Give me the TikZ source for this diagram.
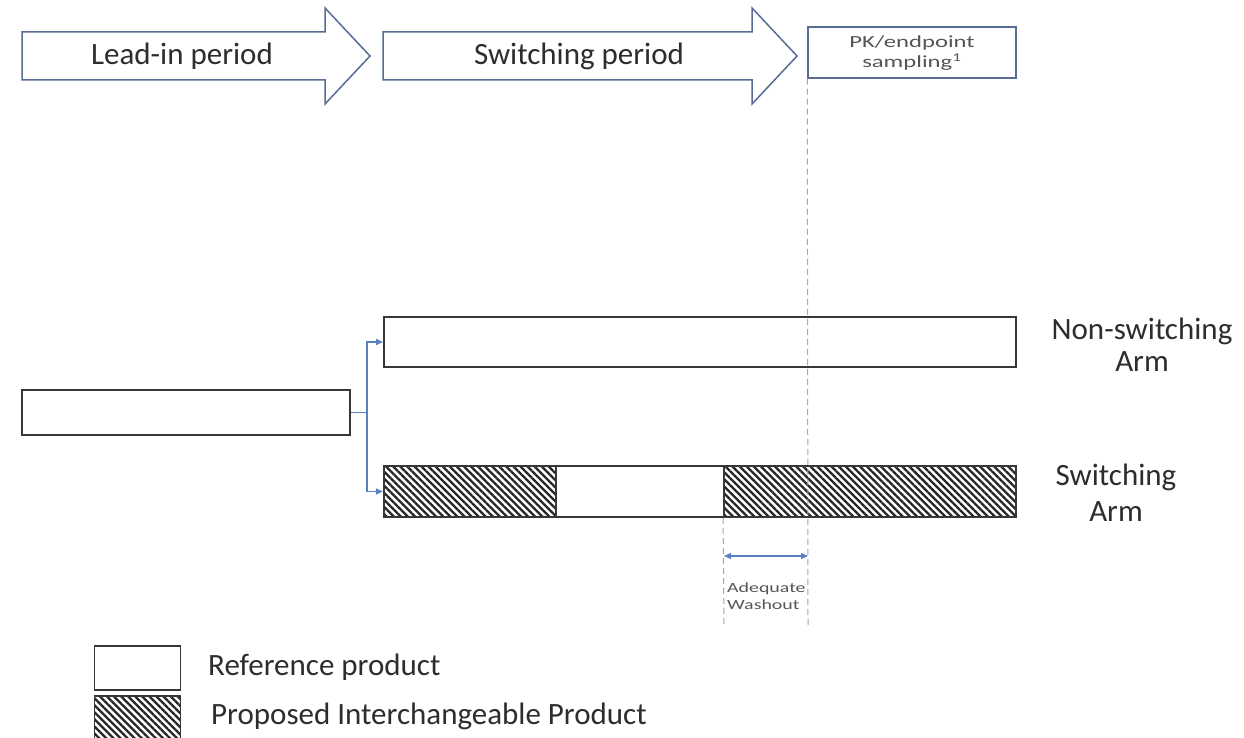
\documentclass[tikz,border=0pt]{standalone}
\usepackage{fontspec}
\setmainfont{Carlito}
\usetikzlibrary{patterns.meta,arrows.meta}
\definecolor{outl}{RGB}{88,108,148}
\definecolor{boxl}{RGB}{55,55,55}
\definecolor{connc}{RGB}{90,128,195}
\definecolor{dashc}{RGB}{150,168,200}
\definecolor{txt}{RGB}{45,45,45}
\definecolor{smtxt}{RGB}{85,85,85}
\tikzset{
  bigarrow/.style={draw=outl, line width=1.5pt, fill=white, line join=miter},
  bar/.style={draw=boxl, line width=1.8pt, fill=white, inner sep=0pt},
  hatch/.style={draw=boxl, line width=1.8pt, inner sep=0pt, pattern={Lines[angle=-45,distance=5pt,line width=2.3pt]}, pattern color=black!85},
  pkbox/.style={draw=outl, line width=1.5pt, fill=white, inner sep=0pt},
  bigtxt/.style={text=txt, font=\fontsize{31}{37}\selectfont, inner sep=0pt, align=center},
  conn/.style={draw=connc, line width=1.3pt},
  tipped/.style={-{Triangle[length=7pt,width=6pt]}},
  both/.style={{Triangle[length=7pt,width=6pt]}-{Triangle[length=7pt,width=6pt]}},
  dashline/.style={draw=dashc, line width=1pt, dash pattern=on 6pt off 4pt},
}
\begin{document}
\begin{tikzpicture}[x=1pt,y=-1pt]
\useasboundingbox (0,0) rectangle (1244,738);
\fill[white] (0,0) rectangle (1244,738);
% period arrows
\draw[bigarrow] (22,32) -- (325,32) -- (325,8) -- (370,56) -- (325,104) -- (325,80) -- (22,80) -- cycle;
\node[bigtxt] (leadtxt) at (182,56) {Lead-in period};
\draw[bigarrow] (383,32) -- (752,32) -- (752,8) -- (797,56) -- (752,104) -- (752,80) -- (383,80) -- cycle;
\node[bigtxt] (swtxt) at (579,56) {Switching period};
% PK box
\node[pkbox, minimum width=208pt, minimum height=51pt] (pk) at (912,52.5) {};
\node[text=smtxt, font=\fontsize{17}{20}\selectfont, align=center, inner sep=0pt] (pktxt) at (912,53) {\scalebox{1.45}[1]{PK/endpoint}\\\scalebox{1.45}[1]{sampling\textsuperscript{1}}};
% bars
\node[bar, minimum width=328pt, minimum height=45pt] (lead) at (186,412.5) {};
\node[bar, minimum width=632pt, minimum height=50pt] (nonsw) at (700,342) {};
\node[hatch, minimum width=172pt, minimum height=51pt] (sw1) at (470,491.5) {};
\node[bar, minimum width=168pt, minimum height=51pt] (sw2) at (640,491.5) {};
\node[hatch, minimum width=292pt, minimum height=51pt] (sw3) at (870,491.5) {};
% connectors
\coordinate (fork) at (367,412.5);
\draw[conn] (lead.east) -- (fork);
\draw[conn, tipped] (fork) |- (nonsw.west);
\draw[conn, tipped] (fork) |- (sw1.west);
% dashed lines
\coordinate (pkend) at (808,625);
\coordinate (swend) at (724,625);
\draw[dashline] (pk.south west) -- (pkend);
\draw[dashline] (sw3.south west) -- (swend);
% washout arrow
\coordinate (w1) at (724,556);
\coordinate (w2) at (808,556);
\draw[conn, both] (w1) -- (w2);
\node[text=smtxt, font=\fontsize{14}{16.5}\selectfont, align=left, inner sep=0pt, anchor=north west] (wash) at (727,583) {\scalebox{1.42}[1]{Adequate}\\\scalebox{1.42}[1]{Washout}};
% arm labels
\node[bigtxt] (nslab) at (1142,331) {Non-switching};
\node[bigtxt] (nsarm) at (1142,362) {Arm};
\node[bigtxt] (swlab) at (1116,477) {Switching};
\node[bigtxt] (swarm) at (1116,512) {Arm};
% legend
\node[bar, minimum width=86pt, minimum height=44pt] (legref) at (137.5,668) {};
\node[hatch, minimum width=86pt, minimum height=46pt] (legprop) at (137.5,719) {};
\node[bigtxt, anchor=west] (reftxt) at (208,667) {Reference product};
\node[bigtxt, anchor=west] (proptxt) at (211,716) {Proposed Interchangeable Product};
\end{tikzpicture}
\end{document}
